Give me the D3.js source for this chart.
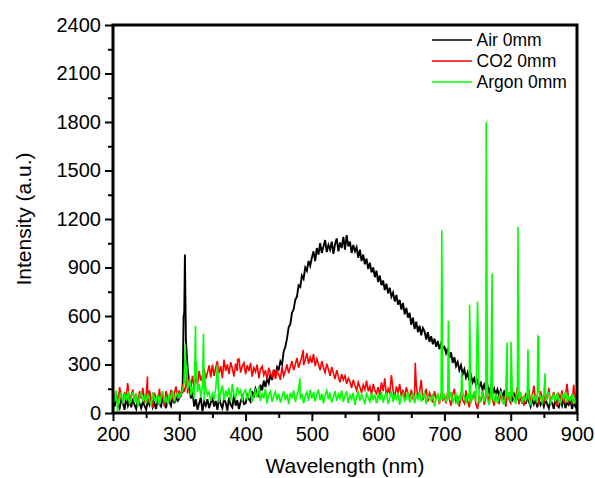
<!DOCTYPE html>
<html>

<head>
    <meta charset="utf-8">
    <style>
        body {
            margin: 0;
            background: white;
        }

        svg {
            font-family: Arial, "Liberation Sans", Helvetica, sans-serif;
        }

        .tick-label {
            font-size: 20px;
            fill: #000;
        }

        .axis-title {
            font-size: 21px;
            fill: #000;
        }

        .legend text {
            font-size: 17.5px;
            fill: #000;
        }
    </style>
</head>

<body>
    <svg width="595" height="478"></svg>
</body>

<script src="https://d3js.org/d3.v7.min.js"></script>

<script>
    // spectra, one value every 2.5 nm from 200 to 900 nm
    let step = 2.5
    let wavelengths = d3.range(200, 900 + step / 2, step)

    let airValues = [
        95, 40, 110, 55, 30, 85, 60, 20, 100, 45, 75, 35, 90, 50, 25, 80, 60, 30, 70, 45,
        20, 75, 50, 95, 35, 60, 25, 85, 55, 40, 100, 65, 30, 90, 70, 45, 110, 60, 95, 75,
        90, 120, 130, 620, 450, 280, 180, 90, 130, 40, 85, 20, 60, 95, 10, 70, 45, 85, 30, 65,
        90, 40, 75, 20, 100, 55, 30, 85, 65, 15, 95, 50, 35, 110, 45, 80, 25, 70, 100, 55,
        60, 110, 85, 70, 135, 95, 150, 120, 105, 175, 140, 200, 160, 215, 185, 240, 205, 265, 230, 285,
        270, 320, 300, 380, 410, 460, 530, 550, 620, 640, 700, 720, 790, 780, 850, 830, 900, 880, 940, 910,
        960, 1000, 940, 1020, 980, 1050, 990, 1030, 1070, 995, 1040, 1010, 1060, 985, 1045, 1080, 1000, 1055, 1020, 1090,
        1010, 1100, 1030, 1060, 990, 1040, 1000, 1025, 960, 1010, 940, 980, 920, 955, 890, 930, 870, 900, 840, 880,
        810, 850, 790, 820, 760, 800, 740, 775, 720, 745, 690, 730, 670, 700, 640, 680, 610, 650, 590, 620,
        545, 590, 520, 565, 500, 540, 480, 525, 505, 455, 500, 440, 475, 425, 460, 410, 445, 395, 430, 400,
        410, 370, 400, 340, 375, 310, 345, 290, 315, 265, 295, 240, 270, 220, 250, 200, 235, 190, 215, 175,
        200, 160, 185, 145, 175, 135, 170, 130, 160, 120, 150, 115, 145, 105, 140, 100, 130, 95, 125, 100,
        130, 85, 115, 75, 110, 70, 105, 60, 100, 55, 95, 70, 40, 90, 55, 85, 35, 80, 50, 75,
        40, 85, 55, 30, 80, 60, 25, 90, 50, 35, 75, 45, 95, 30, 65, 50, 85, 25, 70, 40,
        60
    ]

    let co2Values = [
        150, 70, 120, 40, 160, 95, 55, 130, 80, 175, 60, 110, 145, 70, 120, 50, 135, 90, 155, 65,
        110, 60, 140, 85, 30, 125, 95, 55, 150, 70, 115, 40, 135, 95, 60, 145, 80, 120, 165, 95,
        140, 100, 180, 130, 170, 120, 210, 160, 230, 150, 240, 175, 260, 200, 230, 275, 210, 250, 295, 220,
        300, 230, 280, 320, 245, 290, 215, 330, 260, 300, 240, 315, 275, 225, 305, 260, 335, 250, 290, 310,
        240, 295, 260, 310, 225, 280, 255, 300, 215, 270, 290, 235, 265, 205, 280, 245, 225, 270, 210, 260,
        240, 205, 285, 230, 260, 300, 245, 285, 320, 265, 300, 340, 280, 315, 350, 295, 330, 370, 305, 345,
        310, 365, 290, 335, 300, 265, 320, 280, 250, 305, 270, 230, 285, 245, 210, 265, 225, 190, 240, 205,
        230, 180, 215, 195, 155, 205, 170, 140, 190, 160, 125, 175, 145, 200, 135, 165, 110, 180, 140, 120,
        160, 110, 190, 135, 215, 105, 150, 120, 235, 140, 95, 165, 125, 180, 100, 145, 85, 160, 120, 100,
        145, 85, 120, 175, 95, 130, 205, 80, 115, 150, 70, 125, 100, 65, 135, 90, 110, 55, 120, 80,
        105, 60, 130, 85, 45, 115, 150, 70, 95, 40, 125, 80, 60, 140, 75, 35, 110, 90, 130, 55,
        25, 105, 70, 140, 50, 95, 120, 60, 155, 80, 45, 115, 90, 55, 130, 75, 105, 40, 120, 85,
        60, 135, 80, 100, 160, 55, 115, 90, 45, 125, 75, 145, 60, 105, 170, 70, 110, 50, 135, 95,
        65, 120, 85, 155, 55, 100, 130, 70, 40, 115, 90, 140, 60, 110, 180, 75, 95, 55, 175, 80,
        110
    ]

    let argonValues = [
        120, 70, 140, 50, 100, 125, 60, 110, 85, 135, 55, 95, 130, 65, 115, 40, 100, 125, 70, 105,
        60, 120, 85, 45, 130, 90, 70, 115, 50, 105, 135, 75, 95, 55, 120, 85, 140, 70, 110, 125,
        95, 120, 140, 190, 240, 150, 190, 110, 160, 90, 210, 130, 180, 100, 170, 80, 150, 110, 130, 75,
        120, 85, 150, 95, 65, 130, 170, 80, 140, 100, 155, 70, 180, 110, 90, 160, 120, 140, 75, 130,
        145, 80, 120, 155, 70, 110, 140, 95, 165, 75, 125, 90, 150, 60, 115, 135, 70, 105, 130, 85,
        120, 65, 100, 135, 80, 115, 55, 125, 90, 140, 70, 110, 150, 85, 120, 60, 105, 130, 75, 145,
        90, 130, 70, 115, 145, 80, 120, 60, 110, 140, 85, 125, 65, 100, 135, 75, 115, 90, 140, 70,
        105, 135, 60, 110, 85, 125, 50, 100, 130, 75, 115, 90, 55, 120, 95, 70, 125, 85, 110, 60,
        115, 80, 130, 65, 105, 120, 55, 95, 135, 70, 110, 85, 125, 50, 100, 120, 75, 90, 130, 65,
        95, 120, 60, 110, 85, 130, 70, 100, 125, 55, 105, 90, 75, 120, 40, 95, 115, 70, 100, 85,
        120, 70, 105, 85, 130, 60, 95, 115, 50, 110, 80, 125, 95, 65, 120, 85, 60, 105, 135, 75,
        110, 55, 95, 125, 70, 115, 85, 50, 130, 90, 75, 120, 60, 100, 135, 80, 50, 110, 90, 125,
        70, 115, 95, 55, 120, 85, 130, 60, 100, 75, 125, 90, 45, 115, 80, 105, 60, 130, 95, 65,
        120, 75, 100, 130, 55, 95, 115, 70, 125, 85, 60, 110, 90, 130, 65, 100, 80, 120, 55, 95,
        85
    ]

    // narrow emission lines that fall between the grid points: [wavelength, intensity]
    let airLines = [[306.5, 600], [308.5, 980]]
    let co2Lines = [[222, 185], [252, 225], [312, 290], [388, 330], [487, 390], [656, 310]]
    let argonLines = [
        [207, 0], [309, 430], [311, 300], [316, 210], [324.5, 540], [326, 320],
        [336.5, 490], [338, 250], [357.5, 300], [482, 215],
        [696, 1130], [706, 570], [726, 250], [738, 670], [750, 690], [763, 1800],
        [772, 865], [794.5, 435], [800.5, 440], [811, 1150], [826, 395],
        [841, 475], [842, 470], [852, 245]
    ]

    let seriesNames = ["Air 0mm", "CO2 0mm", "Argon 0mm"]
    let seriesColors = ["#000000", "#ff0000", "#00ff00"]

    let yTicks = [0, 300, 600, 900, 1200, 1500, 1800, 2100, 2400]
    let xTicks = [200, 300, 400, 500, 600, 700, 800, 900]

    function mergeSeries(values, lines) {
        let pts = wavelengths.map((w, i) => [w, values[i]])
        lines.forEach(p => {
            pts = pts.filter(q => q[0] !== p[0])
            pts.push(p)
        })
        return pts.sort((a, b) => a[0] - b[0])
    }

    let series = [
        mergeSeries(airValues, airLines),
        mergeSeries(co2Values, co2Lines),
        mergeSeries(argonValues, argonLines)
    ]

    let plot = { left: 113, right: 577, top: 25, bottom: 413 }

    let svg = d3.select("svg")

    let x = d3.scaleLinear()
        .domain([200, 900])
        .range([plot.left, plot.right])

    let y = d3.scaleLinear()
        .domain([0, 2400])
        .range([plot.bottom, plot.top])

    let line = d3.line()
        .x(d => x(d[0]))
        .y(d => y(d[1]))

    // spectra
    svg.selectAll(".spectrum")
        .data(series)
        .join("path")
        .attr("class", "spectrum")
        .attr("d", line)
        .style("fill", "none")
        .style("stroke", (d, i) => seriesColors[i])
        .style("stroke-width", (d, i) => i === 0 ? 1.9 : 1.6)
        .style("stroke-linejoin", "miter")

    // minor ticks
    let minorX = d3.range(250, 900, 100)
    let minorY = d3.range(150, 2400, 300)

    svg.append("g")
        .attr("transform", `translate(0,${plot.bottom})`)
        .call(d3.axisBottom(x).tickValues(minorX).tickSize(5).tickFormat(""))
        .call(g => g.select(".domain").remove())
        .call(g => g.selectAll("line").style("stroke-width", 2))

    svg.append("g")
        .attr("transform", `translate(${plot.left},0)`)
        .call(d3.axisLeft(y).tickValues(minorY).tickSize(5).tickFormat(""))
        .call(g => g.select(".domain").remove())
        .call(g => g.selectAll("line").style("stroke-width", 2))

    // major ticks
    let xAxis = svg.append("g")
        .attr("transform", `translate(0,${plot.bottom})`)
        .call(d3.axisBottom(x).tickValues(xTicks).tickSize(8).tickPadding(6).tickFormat(d3.format("d")))
        .call(g => g.select(".domain").remove())
        .call(g => g.selectAll("line").style("stroke-width", 2))

    xAxis.attr("font-family", null).attr("font-size", null)
    xAxis.selectAll("text").attr("class", "tick-label")

    let yAxis = svg.append("g")
        .attr("transform", `translate(${plot.left},0)`)
        .call(d3.axisLeft(y).tickValues(yTicks).tickSize(8).tickPadding(4).tickFormat(d3.format("d")))
        .call(g => g.select(".domain").remove())
        .call(g => g.selectAll("line").style("stroke-width", 2))

    yAxis.attr("font-family", null).attr("font-size", null)
    yAxis.selectAll("text").attr("class", "tick-label")

    // frame
    svg.append("rect")
        .attr("x", plot.left)
        .attr("y", plot.top)
        .attr("width", plot.right - plot.left)
        .attr("height", plot.bottom - plot.top)
        .style("fill", "none")
        .style("stroke", "#000")
        .style("stroke-width", 3)

    // axis titles
    svg.append("text")
        .attr("class", "axis-title")
        .attr("x", (plot.left + plot.right) / 2)
        .attr("y", 473)
        .attr("text-anchor", "middle")
        .text("Wavelength (nm)")

    svg.append("text")
        .attr("class", "axis-title")
        .attr("transform", `translate(31,${(plot.top + plot.bottom) / 2}) rotate(-90)`)
        .attr("text-anchor", "middle")
        .text("Intensity (a.u.)")

    // legend
    let legend = svg.append("g")
        .attr("class", "legend")

    let rows = legend.selectAll("g")
        .data(seriesNames)
        .join("g")
        .attr("transform", (d, i) => `translate(432,${40 + i * 21})`)

    rows.append("line")
        .attr("x1", 0)
        .attr("x2", 40)
        .style("stroke", (d, i) => seriesColors[i])
        .style("stroke-width", 1.3)

    rows.append("text")
        .attr("x", 44.5)
        .attr("dy", "0.35em")
        .text(d => d)
</script>

</html>
